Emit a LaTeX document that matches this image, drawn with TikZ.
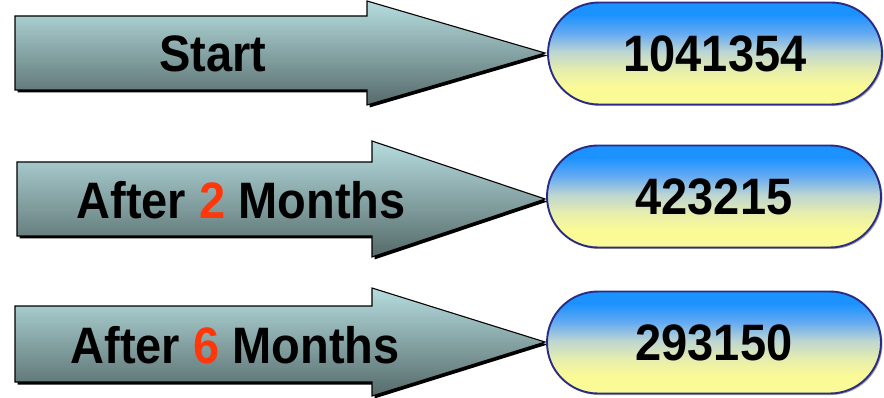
\documentclass[tikz,border=0pt]{standalone}
\usepackage{fontspec}
\usepackage{graphicx}
\setmainfont{Liberation Sans}
\usetikzlibrary{shapes.misc}
\definecolor{byel}{RGB}{250,250,150}
\definecolor{byel2}{RGB}{228,236,175}
\definecolor{bmid}{RGB}{188,213,210}
\definecolor{bblue2}{RGB}{100,170,242}
\definecolor{bblue}{RGB}{28,146,255}
\definecolor{boxline}{RGB}{42,42,135}
\definecolor{artop}{RGB}{182,221,223}
\definecolor{arbot}{RGB}{86,106,106}
\definecolor{numred}{RGB}{255,55,10}
\newcommand{\tallbf}[1]{\scalebox{1}[1.09]{#1}}
\newcommand{\boxbands}{%
  \fill[bblue] (-180,-60) rectangle (180,-38.5);
  \shade[top color=bblue, bottom color=bblue2] (-180,-38.8) rectangle (180,-20.2);
  \shade[top color=bblue2, bottom color=bmid] (-180,-20.4) rectangle (180,-1.8);
  \shade[top color=bmid, bottom color=byel2] (-180,-2) rectangle (180,15.5);
  \shade[top color=byel2, bottom color=byel] (-180,15.3) rectangle (180,32.8);
  \fill[byel] (-180,32.6) rectangle (180,60);
}
\newcommand{\valuebox}[4]{%
  \begin{scope}[shift={(#2,#3)}]
    \fill[black, opacity=0.35, rounded corners=51pt] (-165.5,-49.5) rectangle (168.5,52.5);
    \begin{scope}
      \clip[rounded corners=51pt] (-167,-51) rectangle (167,51);
      \boxbands
    \end{scope}
  \end{scope}
  \node[valbox] (#1) at (#2,#3) {\tallbf{#4}};
}
\tikzset{
  bigarrow/.style={top color=artop, bottom color=arbot, draw=black, line width=1.1pt, line join=miter},
  arrowshadow/.style={fill=black},
  valbox/.style={rounded rectangle, draw=boxline, line width=1.9pt,
    minimum width=334pt, minimum height=102pt, inner sep=0pt,
    font=\bfseries\fontsize{47}{50}\selectfont},
  label/.style={inner sep=0pt, font=\bfseries\fontsize{47}{50}\selectfont}
}
\begin{document}
\begin{tikzpicture}[x=1pt,y=-1pt]
\useasboundingbox (0,0) rectangle (884,398);
% arrows (shadow, then body)
\foreach \dx/\dy in {2.5/2.5} {
\path[arrowshadow,shift={(\dx,\dy)}] (15,16) -- (367,16) -- (367,1) -- (545,53) -- (367,105) -- (367,90) -- (15,90) -- cycle;
\path[arrowshadow,shift={(\dx,\dy)}] (17,162) -- (372,162) -- (372,141) -- (545,199) -- (372,257) -- (372,236) -- (17,236) -- cycle;
\path[arrowshadow,shift={(\dx,\dy)}] (15,306) -- (372,306) -- (372,288) -- (545,342) -- (372,396) -- (372,382) -- (15,382) -- cycle;
}
\path[bigarrow] (15,16) -- (367,16) -- (367,1) -- (545,53) -- (367,105) -- (367,90) -- (15,90) -- cycle;
\path[bigarrow] (17,162) -- (372,162) -- (372,141) -- (545,199) -- (372,257) -- (372,236) -- (17,236) -- cycle;
\path[bigarrow] (15,306) -- (372,306) -- (372,288) -- (545,342) -- (372,396) -- (372,382) -- (15,382) -- cycle;
% arrow labels
\node[label] (t1) at (213,54) {\tallbf{Start}};
\node[label] (t2) at (241,200) {\tallbf{After {\color{numred}2} Months}};
\node[label] (t3) at (235,345) {\tallbf{After {\color{numred}6} Months}};
% value boxes
\valuebox{v1}{715}{53.5}{1041354}
\valuebox{v2}{714}{196.5}{423215}
\valuebox{v3}{714}{342.5}{293150}
\end{tikzpicture}
\end{document}
